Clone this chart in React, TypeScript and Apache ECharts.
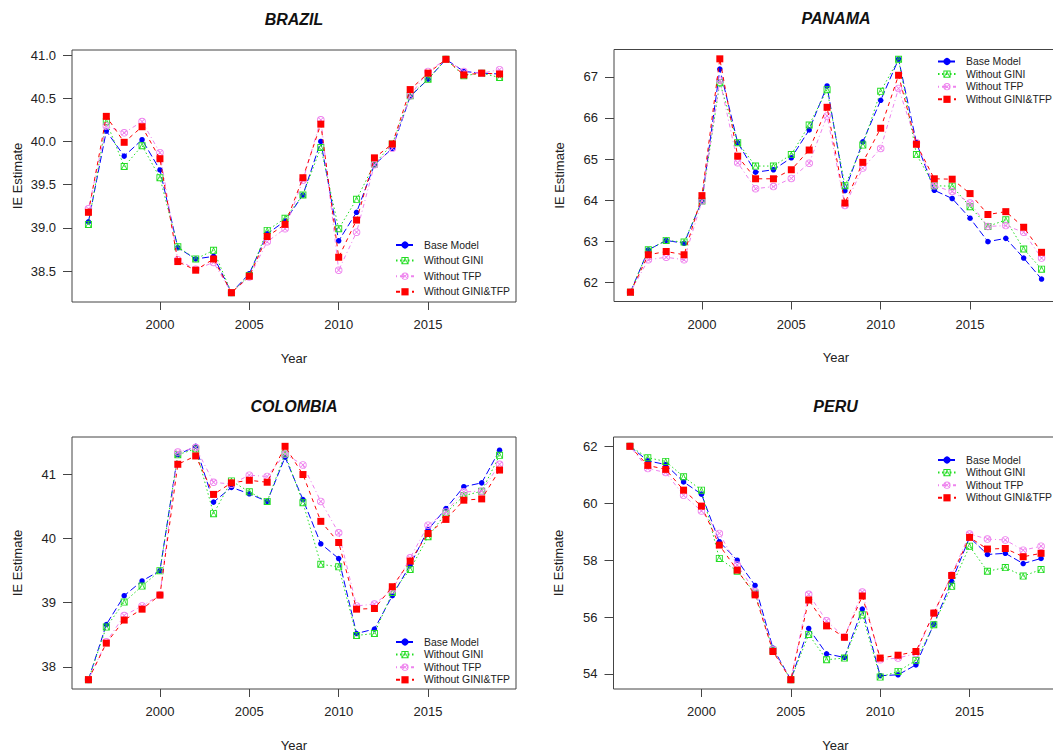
import React, { useEffect, useRef } from "react";
import * as echarts from "echarts";

const years = [1996, 1997, 1998, 1999, 2000, 2001, 2002, 2003, 2004, 2005, 2006, 2007, 2008, 2009, 2010, 2011, 2012, 2013, 2014, 2015, 2016, 2017, 2018, 2019];
const xTicks = [2000, 2005, 2010, 2015];
const seriesNames = ["Base Model", "Without GINI", "Without TFP", "Without GINI&TFP"];

// BRAZIL
const brazilBase = [39.07, 40.12, 39.83, 40.02, 39.67, 38.77, 38.64, 38.67, 38.25, 38.47, 38.93, 39.08, 39.38, 40.0, 38.85, 39.18, 39.73, 39.92, 40.52, 40.72, 40.95, 40.81, 40.79, 40.78];
const brazilGini = [39.04, 40.23, 39.71, 39.95, 39.58, 38.78, 38.64, 38.74, 38.25, 38.45, 38.97, 39.11, 39.38, 39.93, 38.99, 39.33, 39.74, 39.97, 40.53, 40.72, 40.95, 40.76, 40.79, 40.74];
const brazilTfp = [39.22, 40.18, 40.1, 40.23, 39.87, 38.63, 38.52, 38.6, 38.25, 38.43, 38.84, 38.99, 39.55, 40.25, 38.51, 38.95, 39.73, 39.92, 40.53, 40.81, 40.95, 40.81, 40.79, 40.83];
const brazilGt = [39.18, 40.29, 39.99, 40.17, 39.8, 38.61, 38.51, 38.64, 38.25, 38.44, 38.9, 39.04, 39.58, 40.2, 38.66, 39.09, 39.81, 39.97, 40.6, 40.79, 40.95, 40.77, 40.79, 40.78];
const brazilTicks = [38.5, 39.0, 39.5, 40.0, 40.5, 41.0];

// PANAMA
const panamaBase = [61.76, 62.79, 63.02, 62.95, 63.98, 67.19, 65.4, 64.68, 64.74, 65.03, 65.71, 66.78, 64.23, 65.42, 66.43, 67.43, 65.4, 64.24, 64.04, 63.56, 62.99, 63.07, 62.59, 62.08];
const panamaGini = [61.76, 62.79, 63.02, 62.98, 63.98, 66.86, 65.4, 64.83, 64.83, 65.11, 65.83, 66.69, 64.35, 65.34, 66.65, 67.43, 65.11, 64.35, 64.34, 63.84, 63.36, 63.52, 62.81, 62.32];
const panamaTfp = [61.76, 62.55, 62.61, 62.55, 63.98, 66.92, 64.91, 64.28, 64.33, 64.53, 64.9, 66.05, 63.87, 64.78, 65.26, 66.72, 65.4, 64.35, 64.21, 63.93, 63.36, 63.38, 63.22, 62.59];
const panamaGt = [61.76, 62.67, 62.75, 62.67, 64.11, 67.44, 65.07, 64.52, 64.52, 64.74, 65.22, 66.26, 63.93, 64.92, 65.75, 67.04, 65.36, 64.52, 64.51, 64.16, 63.65, 63.72, 63.34, 62.73];
const panamaTicks = [62, 63, 64, 65, 66, 67];

// COLOMBIA
const colombiaBase = [37.8, 38.66, 39.11, 39.34, 39.5, 41.31, 41.44, 40.57, 40.8, 40.7, 40.58, 41.27, 40.61, 39.92, 39.69, 38.52, 38.59, 39.11, 39.59, 40.14, 40.47, 40.81, 40.87, 41.38];
const colombiaGini = [37.8, 38.62, 39.01, 39.26, 39.5, 41.31, 41.4, 40.39, 40.9, 40.73, 40.58, 41.32, 40.56, 39.6, 39.56, 38.49, 38.52, 39.16, 39.52, 40.03, 40.4, 40.67, 40.74, 41.3];
const colombiaTfp = [37.8, 38.39, 38.8, 38.95, 39.12, 41.35, 41.42, 40.88, 40.85, 40.99, 40.97, 41.32, 41.15, 40.58, 40.09, 38.95, 38.98, 39.2, 39.7, 40.21, 40.42, 40.73, 40.74, 41.16];
const colombiaGt = [37.8, 38.37, 38.73, 38.9, 39.12, 41.16, 41.29, 40.69, 40.87, 40.91, 40.88, 41.44, 41.0, 40.27, 39.94, 38.9, 38.91, 39.25, 39.65, 40.08, 40.3, 40.6, 40.62, 41.07];
const colombiaTicks = [38, 39, 40, 41];

// PERU
const peruBase = [62.0, 61.49, 61.36, 60.75, 60.32, 58.65, 58.0, 57.11, 54.91, 53.8, 55.6, 54.71, 54.58, 56.28, 53.94, 53.97, 54.32, 55.75, 57.25, 58.8, 58.2, 58.24, 57.88, 58.06];
const peruGini = [62.0, 61.6, 61.47, 60.93, 60.46, 58.06, 57.61, 56.84, 54.83, 53.8, 55.39, 54.5, 54.56, 56.08, 53.89, 54.09, 54.48, 55.73, 57.08, 58.49, 57.61, 57.74, 57.44, 57.67];
const peruTfp = [62.0, 61.22, 61.08, 60.28, 59.73, 58.94, 57.83, 56.9, 54.85, 53.8, 56.8, 55.87, 55.29, 56.88, 54.5, 54.56, 54.72, 56.14, 57.48, 58.92, 58.74, 58.71, 58.35, 58.49];
const peruGt = [62.0, 61.33, 61.19, 60.46, 59.9, 58.53, 57.65, 56.78, 54.79, 53.8, 56.6, 55.69, 55.29, 56.74, 54.56, 54.66, 54.79, 56.14, 57.46, 58.8, 58.39, 58.41, 58.12, 58.24];
const peruTicks = [54, 56, 58, 60, 62];

const FONT = '"Liberation Sans", Arial, Helvetica, sans-serif';
const COLORS = ["#0000FF", "#22DD22", "#EE82EE", "#FF0000"];
const DASHES: any[] = [[7, 3], [1.5, 2.5], [1, 3, 4, 3], [4, 4]];
// outline symbols drawn as filled geometry (ring + inner strokes)
const SQUARE_TRIANGLE =
  "path://M0,0L10,0L10,10L0,10Z M1.3,1.3L1.3,8.7L8.7,8.7L8.7,1.3Z M0.9,8.7L4.4,1.3L5.6,1.3L2.1,8.7Z M4.4,1.3L5.6,1.3L9.1,8.7L7.9,8.7Z";
const CIRCLE_X =
  "path://M10,5A5,5 0 1,1 0,5A5,5 0 1,1 10,5Z M8.8,5A3.8,3.8 0 1,0 1.2,5A3.8,3.8 0 1,0 8.8,5Z M1.4,2.2L2.2,1.4L8.6,7.8L7.8,8.6Z M7.8,1.4L8.6,2.2L2.2,8.6L1.4,7.8Z";
const SYMBOLS = ["circle", SQUARE_TRIANGLE, CIRCLE_X, "rect"];
const SIZES = [5.5, 7, 7.5, 7];

const panels = [
  { title: "BRAZIL", left: 72, top: 50, data: [brazilBase, brazilGini, brazilTfp, brazilGt], ticks: brazilTicks, dec: 1, legend: { left: 395, top: 239, gap: 3.6 } },
  { title: "PANAMA", left: 614, top: 49.5, data: [panamaBase, panamaGini, panamaTfp, panamaGt], ticks: panamaTicks, dec: 0, legend: { left: 937, top: 55.5, gap: 0.6 } },
  { title: "COLOMBIA", left: 72, top: 437, data: [colombiaBase, colombiaGini, colombiaTfp, colombiaGt], ticks: colombiaTicks, dec: 0, legend: { left: 395, top: 636, gap: 0.6 } },
  { title: "PERU", left: 613.5, top: 437, data: [peruBase, peruGini, peruTfp, peruGt], ticks: peruTicks, dec: 0, legend: { left: 937, top: 454, gap: 0.6 } },
];

const W = 444;
const H = 252;

function padRange(vals: number[]): [number, number] {
  const mn = Math.min(...vals);
  const mx = Math.max(...vals);
  const r = mx - mn;
  return [mn - 0.04 * r, mx + 0.04 * r];
}

export default function App() {
  const ref = useRef<HTMLDivElement>(null);
  useEffect(() => {
    document.body.style.margin = "0";
    const chart = echarts.init(ref.current!, null, { renderer: "svg" });
    const [xMin, xMax] = padRange(years);
    const grid: any[] = [];
    const xAxis: any[] = [];
    const yAxis: any[] = [];
    const series: any[] = [];
    const legend: any[] = [];
    const graphic: any[] = [];

    panels.forEach((p, i) => {
      grid.push({
        left: p.left,
        top: p.top,
        width: W,
        height: H,
        show: true,
        borderColor: "#444",
        borderWidth: 1,
        backgroundColor: "transparent",
        containLabel: false,
        outerBoundsMode: "none",
      });
      xAxis.push({
        type: "value",
        gridIndex: i,
        min: xMin,
        max: xMax,
        axisLine: { show: false },
        splitLine: { show: false },
        axisTick: { show: true, inside: false, length: 8, customValues: xTicks, lineStyle: { color: "#444" } },
        axisLabel: { show: true, customValues: xTicks, margin: 16, fontSize: 13, color: "#222", fontFamily: FONT, formatter: (v: number) => String(v) },
      });
      const all = ([] as number[]).concat(...p.data);
      const [yMin, yMax] = padRange(all);
      yAxis.push({
        type: "value",
        gridIndex: i,
        min: yMin,
        max: yMax,
        axisLine: { show: false },
        splitLine: { show: false },
        axisTick: { show: true, inside: false, length: 9, customValues: p.ticks, lineStyle: { color: "#444" } },
        axisLabel: { show: true, customValues: p.ticks, margin: 16, fontSize: 13, color: "#222", fontFamily: FONT, formatter: (v: number) => v.toFixed(p.dec) },
      });
      p.data.forEach((vals, k) => {
        series.push({
          type: "line",
          name: seriesNames[k],
          xAxisIndex: i,
          yAxisIndex: i,
          data: years.map((yr, j) => [yr, vals[j]]),
          symbol: SYMBOLS[k],
          symbolSize: SIZES[k],
          showAllSymbol: true,
          lineStyle: { color: COLORS[k], width: 1, type: DASHES[k] },
          itemStyle: { color: COLORS[k], borderWidth: 0 },
          emphasis: { disabled: true },
          z: 2 + k,
        });
      });
      legend.push({
        show: true,
        orient: "vertical",
        left: p.legend.left,
        top: p.legend.top,
        padding: 0,
        itemWidth: 18,
        itemHeight: 9,
        itemGap: p.legend.gap,
        selectedMode: false,
        data: seriesNames,
        textStyle: { fontSize: 10.4, color: "#222", fontFamily: FONT, lineHeight: 12, padding: [0, 0, 0, 5] },
      });
      const cx = p.left + W / 2;
      graphic.push({
        type: "text",
        x: cx,
        y: p.top - 31,
        style: { text: p.title, font: `italic bold 16px ${FONT}`, fill: "#111", align: "center", verticalAlign: "middle" },
      });
      graphic.push({
        type: "text",
        x: cx,
        y: p.top + H + 56,
        style: { text: "Year", font: `13px ${FONT}`, fill: "#222", align: "center", verticalAlign: "middle" },
      });
      graphic.push({
        type: "text",
        x: p.left - 55,
        y: p.top + H / 2,
        rotation: Math.PI / 2,
        style: { text: "IE Estimate", font: `13px ${FONT}`, fill: "#222", align: "center", verticalAlign: "middle" },
      });
    });

    chart.setOption({
      animation: false,
      backgroundColor: "#fff",
      textStyle: { fontFamily: FONT },
      tooltip: { show: false },
      grid,
      xAxis,
      yAxis,
      series,
      legend,
      graphic,
    });
    return () => chart.dispose();
  }, []);
  return <div ref={ref} style={{ width: 1053, height: 754 }} />;
}
